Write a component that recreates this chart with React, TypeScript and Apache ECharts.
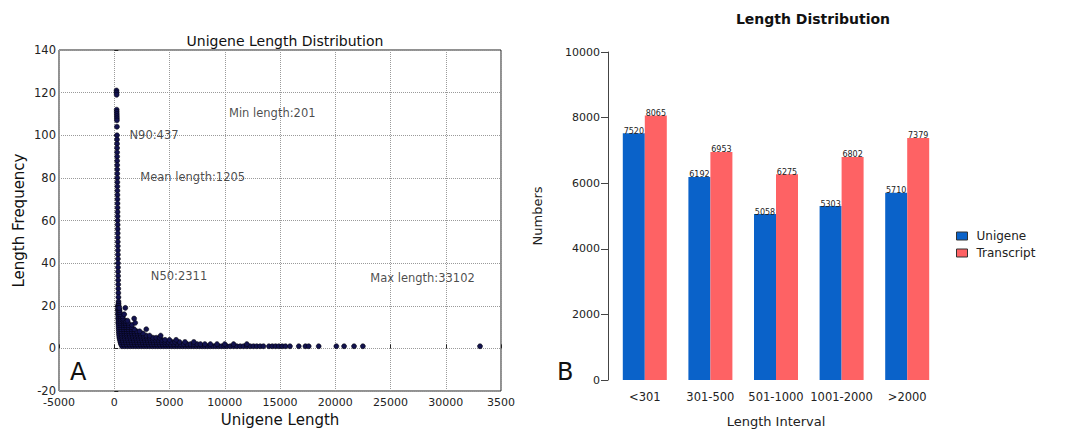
import React, { useEffect, useRef } from "react";
import * as echarts from "echarts";

// ---------- Panel A: unigene length vs frequency ----------
// main column of short lengths: [length, frequency]
const columnPoints: [number, number][] = [
  [205, 121], [212, 120], [218, 119], [222, 112], [226, 111], [230, 110], [234, 109], [238, 108], [241, 107],
  [244, 104], [247, 100], [250, 98], [253, 96], [256, 94], [259, 92], [262, 90], [265, 88], [268, 86],
  [271, 84], [274, 82], [277, 80], [280, 78], [283, 76], [286, 74], [289, 72], [292, 70], [295, 68],
  [298, 66], [301, 64], [304, 62], [307, 60], [310, 58], [313, 56], [316, 54], [319, 52], [322, 50],
  [325, 48], [328, 46], [331, 44], [334, 42], [337, 40], [340, 38], [344, 36], [348, 34], [352, 32],
  [357, 30], [362, 28], [368, 26], [375, 24], [382, 22], [390, 21], [330, 20], [400, 20], [340, 18],
  [420, 18], [350, 16], [440, 16], [360, 14], [470, 14], [370, 12], [520, 12],
];
// tail: lengths observed at each frequency level (index 0 -> frequency 1)
const tailFreq1 = [700, 950, 1200, 1450, 1700, 1950, 2200, 2450, 2700, 2950, 3200, 3450, 3700, 3950, 4200, 4450, 4700, 4950, 5200, 5450, 5700, 5950, 6200, 6450, 6700, 6950, 7200, 7450, 7700, 7950, 8200, 8450, 8700, 8950, 9200, 9450, 9700, 9950, 10200, 10500, 10800, 11100, 11400, 11700, 12000, 12300, 12600, 12900, 13200, 13500, 14000, 14300, 14600, 14900, 15200, 15500, 15900, 16700, 17300, 17600, 18500, 20100, 20800, 21700, 22500, 33100];
const tailFreq2 = [600, 850, 1100, 1350, 1600, 1850, 2100, 2350, 2600, 2850, 3100, 3350, 3600, 3850, 4100, 4350, 4600, 4850, 5100, 5400, 5700, 6000, 6300, 6600, 6900, 7200, 7500, 7800, 8200, 8700, 9300, 10000, 10800, 12000];
const tailFreq3 = [550, 800, 1050, 1300, 1550, 1800, 2050, 2300, 2550, 2800, 3050, 3300, 3550, 3800, 4050, 4300, 4600, 4900, 5200, 5500, 5900, 6400, 7200];
const tailFreq4 = [500, 750, 1000, 1250, 1500, 1750, 2000, 2250, 2500, 2750, 3000, 3250, 3500, 3750, 4000, 4300, 4600, 5000, 5600];
const tailFreq5 = [460, 700, 950, 1200, 1450, 1700, 1950, 2200, 2450, 2700, 2950, 3200, 3500, 3800, 4100];
const tailFreq6 = [440, 680, 920, 1150, 1400, 1650, 1900, 2150, 2400, 2650, 2900, 3200, 4200];
const tailFreq7 = [420, 650, 900, 1120, 1350, 1600, 1850, 2100, 2350, 2600];
const tailFreq8 = [410, 630, 880, 1100, 1330, 1560, 1800, 2050, 2300];
const tailFreq9 = [400, 620, 860, 1080, 1300, 1550, 1800, 2900];
const tailFreq10 = [390, 600, 850, 1060, 1300, 1550];
const tailFreq11 = [385, 590, 830, 1050, 1300, 1600];
const tailFreq12 = [380, 580, 820, 1000, 1250, 1900];
const tailFreq13 = [375, 570, 800, 1000, 1200];
const tailFreq14 = [370, 560, 780, 1800];
const tailFreq15 = [365, 540, 760];
const tailFreq16 = [360, 520, 900];
const tailFreq17 = [355, 500];
const tailFreq18 = [350, 480];
const tailFreq19 = [345, 460, 1000];
const tailLevels = [
  tailFreq1, tailFreq2, tailFreq3, tailFreq4, tailFreq5, tailFreq6, tailFreq7, tailFreq8, tailFreq9, tailFreq10,
  tailFreq11, tailFreq12, tailFreq13, tailFreq14, tailFreq15, tailFreq16, tailFreq17, tailFreq18, tailFreq19,
];
const statLabels = ["Min length:201", "N90:437", "Mean length:1205", "N50:2311", "Max length:33102"];
const statX = [14300, 3600, 7100, 5860, 27900];
const statY = [110.4, 100, 80.4, 34, 33];

// ---------- Panel B: length distribution ----------
const categories = ["<301", "301-500", "501-1000", "1001-2000", ">2000"];
const unigene = [7520, 6192, 5058, 5303, 5710];
const transcript = [8065, 6953, 6275, 6802, 7379];

export default function App() {
  const ref = useRef<HTMLDivElement>(null);
  useEffect(() => {
    document.body.style.margin = "0";
    if (!ref.current) return;
    const chart = echarts.init(ref.current, null, { renderer: "svg" });

    const scatterData: [number, number][] = [
      ...columnPoints,
      ...tailLevels.flatMap((lens, i) => lens.map((l) => [l, i + 1] as [number, number])),
    ];
    const statData = statLabels.map((t, i) => ({ value: [statX[i], statY[i]], name: t }));

    const font = "DejaVu Sans";
    chart.setOption({
      animation: false,
      textStyle: { fontFamily: font },
      title: [
        {
          text: "Unigene Length Distribution",
          left: 280,
          top: 29,
          textAlign: "center",
          textStyle: { fontSize: 14, fontWeight: "normal", color: "#111", fontFamily: font },
        },
        {
          text: "Length Distribution",
          left: 808,
          top: 7,
          textAlign: "center",
          textStyle: { fontSize: 14, fontWeight: "bold", color: "#111", fontFamily: font },
        },
      ],
      legend: {
        data: [
          { name: "Unigene", itemStyle: { borderColor: "#333", borderWidth: 1 } },
          { name: "Transcript", itemStyle: { borderColor: "#333", borderWidth: 1 } },
        ],
        orient: "vertical",
        left: 951,
        top: 225,
        itemWidth: 11,
        itemHeight: 8,
        itemGap: 5,
        icon: "rect",
        textStyle: { fontSize: 12, color: "#222", fontFamily: font, padding: [0, 0, 0, 4] },
      },
      grid: [
        { left: 59, top: 50, width: 442, height: 341, show: true, borderColor: "#222", borderWidth: 1, backgroundColor: "transparent" },
        { left: 612, top: 52, width: 328, height: 328 },
      ],
      xAxis: [
        {
          gridIndex: 0,
          type: "value",
          min: -5000,
          max: 35000,
          interval: 5000,
          name: "Unigene Length",
          nameLocation: "middle",
          nameGap: 18,
          nameTextStyle: { fontSize: 15, color: "#111" },
          axisLine: { show: false },
          axisTick: { show: true, inside: true, length: 4, lineStyle: { color: "#222" } },
          axisLabel: {
            fontSize: 11,
            color: "#222",
            margin: 6,
            formatter: (v: number) => (v === 35000 ? "3500" : String(v)),
          },
          splitLine: { show: true, lineStyle: { type: "dotted", color: "#9a9a9a" } },
        },
        {
          gridIndex: 1,
          type: "category",
          data: categories,
          name: "Length Interval",
          nameLocation: "middle",
          nameGap: 35,
          nameTextStyle: { fontSize: 13, color: "#222" },
          axisLine: { show: false },
          axisTick: { show: false },
          axisLabel: { fontSize: 11.5, color: "#222", margin: 11, interval: 0 },
        },
      ],
      yAxis: [
        {
          gridIndex: 0,
          type: "value",
          min: -20,
          max: 140,
          interval: 20,
          name: "Length Frequency",
          nameLocation: "middle",
          nameGap: 33,
          nameTextStyle: { fontSize: 15, color: "#111" },
          axisLine: { show: false },
          axisTick: { show: true, inside: true, length: 4, lineStyle: { color: "#222" } },
          axisLabel: { fontSize: 11.5, color: "#222", margin: 3 },
          splitLine: { show: true, lineStyle: { type: "dotted", color: "#9a9a9a" } },
        },
        {
          gridIndex: 1,
          type: "value",
          min: 0,
          max: 10000,
          interval: 2000,
          offset: 4,
          name: "Numbers",
          nameLocation: "middle",
          nameGap: 64,
          nameTextStyle: { fontSize: 13, color: "#222" },
          axisLine: { show: true, lineStyle: { color: "#444" } },
          axisTick: { show: true, length: 7, lineStyle: { color: "#444" } },
          axisLabel: { fontSize: 11, color: "#222", margin: 8, formatter: (v: number) => String(v) },
          splitLine: { show: false },
        },
      ],
      series: [
        {
          type: "scatter",
          xAxisIndex: 0,
          yAxisIndex: 0,
          data: scatterData,
          symbolSize: 5,
          itemStyle: { color: "#12124e", borderColor: "#000", borderWidth: 0.5, opacity: 1 },
          silent: true,
        },
        {
          type: "scatter",
          xAxisIndex: 0,
          yAxisIndex: 0,
          data: statData,
          symbolSize: 1,
          itemStyle: { color: "transparent" },
          label: {
            show: true,
            position: "inside",
            formatter: (p: any) => p.name,
            fontSize: 11.5,
            color: "#1a1a1a",
            fontFamily: font,
          },
          silent: true,
        },
        {
          type: "bar",
          name: "Unigene",
          xAxisIndex: 1,
          yAxisIndex: 1,
          data: unigene,
          barWidth: 22,
          barGap: "0%",
          itemStyle: { color: "#0a62c9" },
          label: { show: true, position: "top", distance: -2, fontSize: 8, color: "#222" },
        },
        {
          type: "bar",
          name: "Transcript",
          xAxisIndex: 1,
          yAxisIndex: 1,
          data: transcript,
          barWidth: 22,
          barGap: "0%",
          itemStyle: { color: "#fe6264" },
          label: { show: true, position: "top", distance: -2, fontSize: 8, color: "#222" },
        },
      ],
      graphic: [
        { type: "text", left: 70, top: 360, style: { text: "A", fontSize: 24, fill: "#111", fontFamily: font } },
        { type: "text", left: 557, top: 360, style: { text: "B", fontSize: 24, fill: "#111", fontFamily: font } },
      ],
    });
    return () => chart.dispose();
  }, []);
  return <div ref={ref} style={{ width: 1073, height: 437 }} />;
}
